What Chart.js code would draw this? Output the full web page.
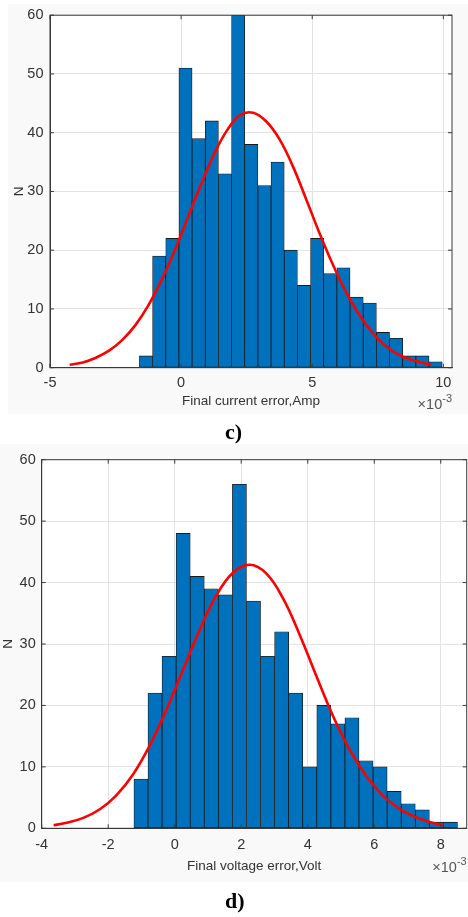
<!DOCTYPE html>
<html>
<head>
<meta charset="utf-8">
<script src="https://cdn.jsdelivr.net/npm/chart.js@4.4.1/dist/chart.umd.min.js"></script>
<style>
  html, body { margin: 0; padding: 0; background: #fff; }
  body { width: 468px; height: 917px; position: relative; overflow: hidden; }
  .figbg { position: absolute; background: #f9f9f9; }
  .box { position: absolute; left: 0; width: 468px; }
  .cap { position: absolute; left: 225px; font-family: "Liberation Serif", "Times New Roman", serif;
         font-weight: bold; font-size: 22px; line-height: 22px; color: #000; }
</style>
</head>
<body>
<div class="figbg" style="left:8px; top:4px; width:460px; height:410px;"></div>
<div class="figbg" style="left:0px; top:444px; width:468px; height:438px;"></div>

<div class="box" style="top:0; height:420px;"><canvas id="chartCurrent" width="468" height="420"></canvas></div>
<div class="cap" style="top:421px;">c)</div>

<div class="box" style="top:445px; height:435px;"><canvas id="chartVoltage" width="468" height="435"></canvas></div>
<div class="cap" style="top:890px;">d)</div>

<script>
// histogram of final current error (x in units of 1e-3 A)
const currentBins = [-1.339, -0.837, -0.335, 0.167, 0.669, 1.171, 1.673, 2.175, 2.677, 3.179, 3.681, 4.183,
                     4.685, 5.187, 5.689, 6.191, 6.693, 7.195, 7.697, 8.199, 8.701, 9.203, 9.705];
const currentCounts = [2, 19, 22, 51, 39, 42, 33, 60, 38, 31, 35, 20, 14, 22, 16, 17, 12, 11, 6, 5, 2, 2, 1];
// fitted normal curve, read point by point
const currentFitX = [-4.25, -3.75, -3.25, -2.75, -2.25, -1.75, -1.25, -0.75, -0.25, 0.25, 0.75, 1.25, 1.75,
                     2.25, 2.75, 3.25, 3.75, 4.25, 4.75, 5.25, 5.75, 6.25, 6.75, 7.25, 7.75, 8.25, 8.75, 9.25, 9.55];
const currentFitN = [0.5, 0.9, 1.7, 2.9, 4.7, 7.2, 10.6, 14.9, 19.9, 25.5, 31.1, 36.3, 40.4, 43.0, 43.4, 41.9,
                     38.9, 34.4, 28.9, 23.2, 17.9, 13.2, 9.3, 6.2, 3.9, 2.3, 1.4, 0.8, 0.5];
const currentTicksX = [-5, 0, 5, 10];

// histogram of final voltage error (x in units of 1e-3 V)
const voltageBins = [-1.015, -0.592, -0.169, 0.254, 0.677, 1.100, 1.523, 1.946, 2.369, 2.792, 3.215, 3.638,
                     4.061, 4.484, 4.907, 5.330, 5.753, 6.176, 6.599, 7.022, 7.445, 7.868, 8.291];
const voltageCounts = [8, 22, 28, 48, 41, 39, 38, 56, 37, 28, 32, 22, 10, 20, 17, 18, 11, 10, 6, 4, 3, 1, 1];
const voltageFitX = [-3.64, -3.25, -2.75, -2.25, -1.75, -1.25, -0.75, -0.25, 0.25, 0.75, 1.25, 1.75, 2.25,
                     2.75, 3.25, 3.75, 4.25, 4.75, 5.25, 5.75, 6.25, 6.75, 7.25, 7.75, 8.08];
const voltageFitN = [0.5, 0.9, 1.7, 3.1, 5.4, 8.8, 13.5, 19.3, 25.8, 32.3, 37.9, 41.6, 42.9, 41.5, 37.5, 31.6,
                     24.9, 18.4, 12.9, 8.6, 5.4, 3.2, 1.8, 0.9, 0.5];
const voltageTicksX = [-4, -2, 0, 2, 4, 6, 8];

const countTicks = [0, 10, 20, 30, 40, 50, 60];

const FONT = '"Liberation Sans", Arial, sans-serif';
const TEXT = '#333333';
const AXIS = '#3a3a3a';

Chart.defaults.font.family = FONT;
Chart.defaults.font.size = 13.5;
Chart.defaults.color = TEXT;

// white plot box, frame on all four sides, inward ticks and the x10^n multiplier
const axesFrame = {
  id: 'axesFrame',
  beforeDraw(chart) {
    const a = chart.chartArea;
    const ctx = chart.ctx;
    ctx.save();
    ctx.fillStyle = '#ffffff';
    ctx.fillRect(a.left, a.top, a.right - a.left, a.bottom - a.top);
    ctx.restore();
  },
  afterDatasetsDraw(chart, args, opts) {
    const { ctx, chartArea: a, scales: { x, y } } = chart;
    const tl = 4;
    ctx.save();
    ctx.strokeStyle = AXIS;
    ctx.lineWidth = 1;
    ctx.beginPath();
    x.ticks.forEach(t => {
      const px = x.getPixelForValue(t.value);
      ctx.moveTo(px, a.bottom); ctx.lineTo(px, a.bottom - tl);
      ctx.moveTo(px, a.top); ctx.lineTo(px, a.top + tl);
    });
    y.ticks.forEach(t => {
      const py = y.getPixelForValue(t.value);
      ctx.moveTo(a.left, py); ctx.lineTo(a.left + tl, py);
      ctx.moveTo(a.right, py); ctx.lineTo(a.right - tl, py);
    });
    ctx.stroke();
    ctx.strokeRect(a.left, a.top, a.right - a.left, a.bottom - a.top);

    // exponent label under the right end of the x axis
    const base = '\u00d710';
    ctx.fillStyle = '#555555';
    ctx.textBaseline = 'middle';
    ctx.font = '14.5px ' + FONT;
    const wBase = ctx.measureText(base).width;
    ctx.font = '11px ' + FONT;
    const wExp = ctx.measureText(opts.exponent).width;
    const yy = a.bottom + opts.expOffset;
    const x0 = a.right - wBase - wExp;
    ctx.font = '14.5px ' + FONT;
    ctx.textAlign = 'left';
    ctx.fillText(base, x0, yy);
    ctx.font = '11px ' + FONT;
    ctx.fillText(opts.exponent, x0 + wBase, yy - 6);
    ctx.restore();
  }
};

function makeHistogram(canvasId, cfg) {
  const bars = cfg.bins.map((b, i) => ({ x: b, y: cfg.counts[i] }));
  const fit = cfg.fitX.map((v, i) => ({ x: v, y: cfg.fitN[i] }));

  return new Chart(document.getElementById(canvasId).getContext('2d'), {
    type: 'bar',
    data: {
      datasets: [
        {
          type: 'line',
          data: fit,
          borderColor: '#ff0000',
          borderWidth: 2.6,
          pointRadius: 0,
          tension: 0.4,
          fill: false,
          order: 0
        },
        {
          type: 'bar',
          data: bars,
          backgroundColor: '#0072bd',
          borderColor: '#1a1a1a',
          borderWidth: 0.8,
          borderSkipped: false,
          barPercentage: 1,
          categoryPercentage: 1,
          order: 1
        }
      ]
    },
    options: {
      responsive: false,
      animation: false,
      devicePixelRatio: 1,
      layout: { padding: cfg.padding },
      plugins: {
        legend: { display: false },
        tooltip: { enabled: false },
        axesFrame: { exponent: '-3', expOffset: cfg.expOffset }
      },
      scales: {
        x: {
          type: 'linear',
          min: cfg.xMin,
          max: cfg.xMax,
          offset: false,
          afterBuildTicks: s => { s.ticks = cfg.ticksX.map(v => ({ value: v })); },
          afterFit: s => { s.height = cfg.xHeight; },
          grid: { color: '#e3e3e3', offset: false, drawTicks: false },
          border: { color: AXIS },
          ticks: { padding: cfg.xTickPad, maxRotation: 0, autoSkip: false, font: { size: 14.5 } },
          title: { display: true, text: cfg.xTitle, padding: 0, color: TEXT }
        },
        y: {
          min: 0,
          max: 60,
          afterBuildTicks: s => { s.ticks = countTicks.map(v => ({ value: v })); },
          afterFit: s => { s.width = cfg.yWidth; },
          grid: { color: '#e3e3e3', drawTicks: false },
          border: { color: AXIS },
          ticks: { padding: cfg.yTickPad, font: { size: 14.5 } },
          title: { display: true, text: 'N', padding: { top: cfg.yTitlePad, bottom: 0 }, color: TEXT }
        }
      }
    },
    plugins: [axesFrame]
  });
}

makeHistogram('chartCurrent', {
  bins: currentBins, counts: currentCounts, fitX: currentFitX, fitN: currentFitN,
  ticksX: currentTicksX, xMin: -5, xMax: 10.33,
  xTitle: 'Final current error,Amp',
  padding: { left: 0, right: 16, top: 13.3, bottom: 11.1 },
  xHeight: 41.2, yWidth: 50, xTickPad: 6.5, yTickPad: 6.5, yTitlePad: 10.8, expOffset: 37.3
});

makeHistogram('chartVoltage', {
  bins: voltageBins, counts: voltageCounts, fitX: voltageFitX, fitN: voltageFitN,
  ticksX: voltageTicksX, xMin: -4, xMax: 8.78,
  xTitle: 'Final voltage error,Volt',
  padding: { left: 0, right: 1.3, top: 13.3, bottom: 6.1 },
  xHeight: 45.6, yWidth: 41.7, xTickPad: 8, yTickPad: 6, yTitlePad: 0, expOffset: 40
});
</script>
</body>
</html>
